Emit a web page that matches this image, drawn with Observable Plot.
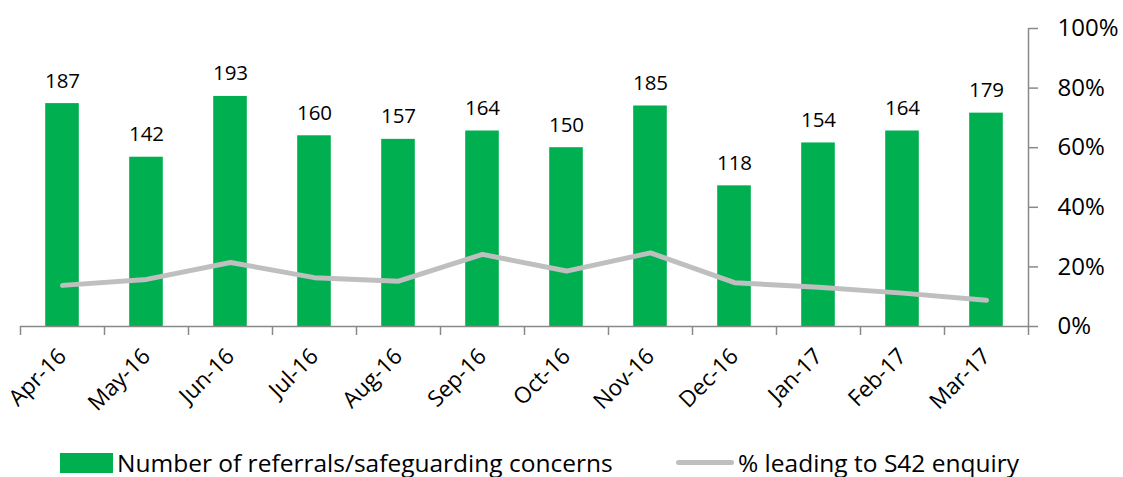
<!DOCTYPE html>
<html>
<head>
<meta charset="utf-8">
<script src="https://cdn.jsdelivr.net/npm/d3@7"></script>
<script src="https://cdn.jsdelivr.net/npm/@observablehq/plot@0.6"></script>
<style>
  html, body { margin: 0; padding: 0; background: #fff; }
  body { width: 1123px; height: 477px; overflow: hidden; font-family: "Open Sans", sans-serif; }
  #legend { position: relative; height: 37px; font-size: 24.5px; color: #000; }
  .item { position: absolute; top: 4px; display: flex; align-items: center; height: 37px; white-space: nowrap; }
  .sw-bar { width: 53px; height: 20px; background: #00B050; margin-right: 4px; }
  .sw-line { width: 58px; height: 5px; border-radius: 3px; background: #BFBFBF; margin-right: 4px; }
</style>
</head>
<body>
<div id="chart"></div>
<div id="legend">
  <div class="item" style="left:60px"><span class="sw-bar"></span><span>Number of referrals/safeguarding concerns</span></div>
  <div class="item" style="left:676px"><span class="sw-line"></span><span>% leading to S42 enquiry</span></div>
</div>
<script>
const months = ["Apr-16","May-16","Jun-16","Jul-16","Aug-16","Sep-16","Oct-16","Nov-16","Dec-16","Jan-17","Feb-17","Mar-17"];
const referrals = [187, 142, 193, 160, 157, 164, 150, 185, 118, 154, 164, 179];
const pctS42 = [0.138, 0.158, 0.215, 0.164, 0.152, 0.242, 0.186, 0.247, 0.147, 0.132, 0.112, 0.088];
const referralsMax = 250; // hidden primary axis maximum
const pctTicks = [0, 0.2, 0.4, 0.6, 0.8, 1];

const data = months.map((m, i) => ({i, month: m, value: referrals[i], pct: pctS42[i]}));

const chart = Plot.plot({
  width: 1123,
  height: 440,
  marginLeft: 20,
  marginRight: 95,
  marginTop: 28,
  marginBottom: 114,
  style: {fontFamily: "'Open Sans', sans-serif", background: "#fff", color: "#000"},
  x: {domain: [0, months.length], axis: null},
  y: {domain: [0, 1], axis: null},
  marks: [
    Plot.rectY(data, {x1: d => d.i + 0.3, x2: d => d.i + 0.7, y1: 0, y2: d => d.value / referralsMax, fill: "#00B050"}),
    Plot.text(data, {x: d => d.i + 0.5, y: d => d.value / referralsMax, text: d => String(d.value), lineAnchor: "bottom", dy: -16, fontSize: 20.5, fill: "#000"}),
    Plot.ruleY([0], {stroke: "#898989", strokeWidth: 1.5}),
    Plot.ruleX([months.length], {y1: 0, y2: 1, stroke: "#898989", strokeWidth: 1.5}),
    Plot.axisX({ticks: d3.range(months.length + 1), tickFormat: () => "", tickSize: 9, stroke: "#898989", strokeWidth: 1.5, label: null}),
    Plot.axisX({ticks: d3.range(months.length).map(i => i + 0.5), tickFormat: t => months[Math.floor(t)], tickSize: 0, tickPadding: 26, tickRotate: -45, fontSize: 22.5, fill: "#000", label: null}),
    Plot.axisY({anchor: "right", ticks: pctTicks, tickFormat: d3.format(".0%"), tickSize: 9, tickPadding: 20, fontSize: 24, stroke: "#898989", strokeWidth: 1.5, fill: "#000", textAnchor: "start", label: null}),
    Plot.line(data, {x: d => d.i + 0.5, y: "pct", stroke: "#BFBFBF", strokeWidth: 5, strokeLinecap: "round", strokeLinejoin: "round"})
  ]
});
document.getElementById("chart").appendChild(chart);
</script>
</body>
</html>
